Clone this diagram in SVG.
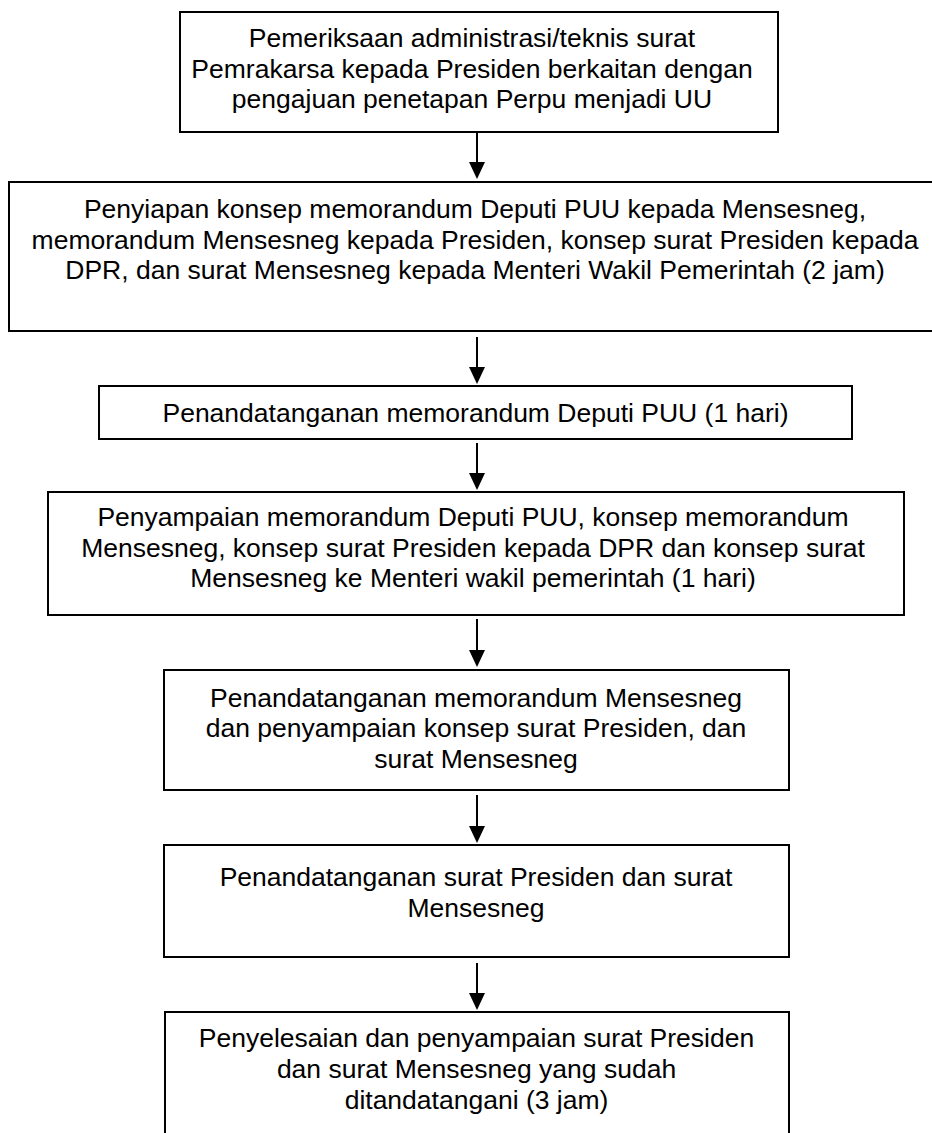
<svg xmlns="http://www.w3.org/2000/svg" width="932" height="1133" viewBox="0 0 932 1133">
<defs>
<style>
.box{fill:#fff;stroke:#000;stroke-width:2}
.t{font-family:"Liberation Sans",Arial,sans-serif;font-size:26.5px;fill:#000;text-anchor:middle}
.c{stroke:#000;stroke-width:2;fill:none;marker-end:url(#ah)}
</style>
<marker id="ah" markerUnits="userSpaceOnUse" markerWidth="18" markerHeight="18" refX="9" refY="8" orient="auto" viewBox="0 0 18 16">
<path d="M0,0 L17,8 L0,16 Z" fill="#000"/>
</marker>
</defs>
<rect width="932" height="1133" fill="#fff"/>
<g id="connectors">
<line class="c" x1="477" y1="132" x2="477" y2="171"/>
<line class="c" x1="477" y1="337" x2="477" y2="376"/>
<line class="c" x1="477" y1="443" x2="477" y2="482"/>
<line class="c" x1="477" y1="619" x2="477" y2="659"/>
<line class="c" x1="477" y1="795" x2="477" y2="835"/>
<line class="c" x1="477" y1="963" x2="477" y2="1002"/>
</g>
<g id="n1">
<rect class="box" x="180" y="12" width="598" height="120"/>
<text class="t" x="472" y="47">Pemeriksaan administrasi/teknis surat</text>
<text class="t" x="472" y="77.5">Pemrakarsa kepada Presiden berkaitan dengan</text>
<text class="t" x="472" y="108">pengajuan penetapan Perpu menjadi UU</text>
</g>
<g id="n2">
<rect class="box" x="9" y="182" width="940" height="149"/>
<text class="t" x="475" y="218">Penyiapan konsep memorandum Deputi PUU kepada Mensesneg,</text>
<text class="t" x="475" y="248.5">memorandum Mensesneg kepada Presiden, konsep surat Presiden kepada</text>
<text class="t" x="475" y="279">DPR, dan surat Mensesneg kepada Menteri Wakil Pemerintah (2 jam)</text>
</g>
<g id="n3">
<rect class="box" x="99" y="386" width="753" height="53"/>
<text class="t" x="475.5" y="422">Penandatanganan memorandum Deputi PUU (1 hari)</text>
</g>
<g id="n4">
<rect class="box" x="48" y="492" width="856" height="123"/>
<text class="t" x="473" y="526">Penyampaian memorandum Deputi PUU, konsep memorandum</text>
<text class="t" x="473" y="556.5">Mensesneg, konsep surat Presiden kepada DPR dan konsep surat</text>
<text class="t" x="473" y="587">Mensesneg ke Menteri wakil pemerintah (1 hari)</text>
</g>
<g id="n5">
<rect class="box" x="164" y="670" width="625" height="120"/>
<text class="t" x="476" y="706.5">Penandatanganan memorandum Mensesneg</text>
<text class="t" x="476" y="737">dan penyampaian konsep surat Presiden, dan</text>
<text class="t" x="476" y="767.5">surat Mensesneg</text>
</g>
<g id="n6">
<rect class="box" x="164" y="845" width="625" height="112"/>
<text class="t" x="476" y="886">Penandatanganan surat Presiden dan surat</text>
<text class="t" x="476" y="917">Mensesneg</text>
</g>
<g id="n7">
<rect class="box" x="165" y="1012" width="624" height="140"/>
<text class="t" x="476.5" y="1047">Penyelesaian dan penyampaian surat Presiden</text>
<text class="t" x="476.5" y="1078">dan surat Mensesneg yang sudah</text>
<text class="t" x="476.5" y="1108.5">ditandatangani (3 jam)</text>
</g>
</svg>
